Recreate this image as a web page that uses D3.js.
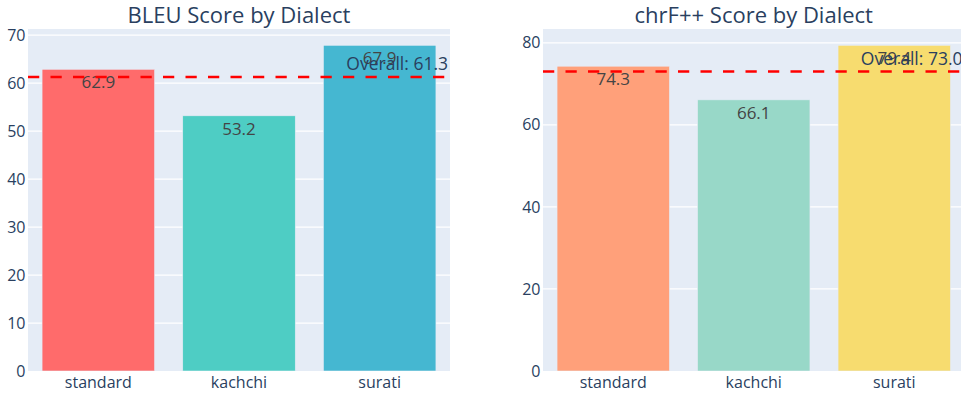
<!DOCTYPE html>
<html>
<head>
<meta charset="utf-8">
<script src="https://cdn.jsdelivr.net/npm/d3@7"></script>
<style>
  html, body { margin: 0; padding: 0; background: #ffffff; }
  svg { display: block; font-family: "Open Sans", verdana, arial, sans-serif; }
</style>
</head>
<body>
<svg id="chart" width="961" height="396"></svg>
<script>
// Dialect categories shared by both panels
const dialects = ["standard", "kachchi", "surati"];

// BLEU scores per dialect and the overall corpus score
const bleuScores = [62.9, 53.2, 67.9];
const bleuOverall = 61.3;
const bleuTicks = [0, 10, 20, 30, 40, 50, 60, 70];
const bleuColors = ["#FF6B6B", "#4ECDC4", "#45B7D1"];

// chrF++ scores per dialect and the overall corpus score
const chrfScores = [74.3, 66.1, 79.4];
const chrfOverall = 73.0;
const chrfTicks = [0, 20, 40, 60, 80];
const chrfColors = ["#FFA07A", "#98D8C8", "#F7DC6F"];

const svg = d3.select("#chart");

const panels = [
  { title: "BLEU Score by Dialect", values: bleuScores, overall: bleuOverall,
    ticks: bleuTicks, colors: bleuColors, x0: 28, x1: 450 },
  { title: "chrF++ Score by Dialect", values: chrfScores, overall: chrfOverall,
    ticks: chrfTicks, colors: chrfColors, x0: 543, x1: 964.5 }
];

const plotTop = 29, plotBottom = 371;
const textColor = "#2a3f5f";
const fontFamily = "'Open Sans', verdana, arial, sans-serif";

panels.forEach((p, i) => {
  const clipId = "clip" + i;
  svg.append("clipPath").attr("id", clipId)
    .append("rect").attr("x", p.x0).attr("y", plotTop)
    .attr("width", p.x1 - p.x0).attr("height", plotBottom - plotTop);

  const x = d3.scaleBand().domain(dialects).range([p.x0, p.x1])
    .paddingInner(0.2).paddingOuter(0.1);
  const y = d3.scaleLinear().domain([0, d3.max(p.values) * 1.05]).range([plotBottom, plotTop]);

  const g = svg.append("g");

  // plot background
  g.append("rect").attr("x", p.x0).attr("y", plotTop)
    .attr("width", p.x1 - p.x0).attr("height", plotBottom - plotTop)
    .attr("fill", "#E5ECF6");

  // horizontal grid lines
  g.append("g").selectAll("line").data(p.ticks.filter(t => t > 0)).join("line")
    .attr("x1", p.x0).attr("x2", p.x1)
    .attr("y1", d => y(d)).attr("y2", d => y(d))
    .attr("stroke", "#ffffff").attr("stroke-width", 1.25);

  // y axis labels
  const yAxis = d3.axisLeft(y).tickValues(p.ticks).tickSize(0).tickPadding(2.5);
  const ya = g.append("g").attr("transform", `translate(${p.x0},0)`).call(yAxis);
  ya.select(".domain").remove();
  ya.selectAll("text").attr("fill", textColor).attr("font-size", 16)
    .attr("font-family", fontFamily);

  // x axis labels
  const xAxis = d3.axisBottom(x).tickSize(0).tickPadding(5.5);
  const xa = g.append("g").attr("transform", `translate(0,${plotBottom})`).call(xAxis);
  xa.select(".domain").remove();
  xa.selectAll("text").attr("fill", textColor).attr("font-size", 16)
    .attr("font-family", fontFamily);

  const data = dialects.map((d, k) => ({ name: d, value: p.values[k], color: p.colors[k] }));

  const inner = g.append("g").attr("clip-path", `url(#${clipId})`);

  // bars
  inner.selectAll("rect.bar").data(data).join("rect")
    .attr("class", "bar")
    .attr("x", d => x(d.name)).attr("width", x.bandwidth())
    .attr("y", d => y(d.value)).attr("height", d => plotBottom - y(d.value))
    .attr("fill", d => d.color)
    .attr("stroke", "#E5ECF6").attr("stroke-width", 0.6);

  // value labels inside the top of each bar
  inner.selectAll("text.val").data(data).join("text")
    .attr("class", "val")
    .attr("x", d => x(d.name) + x.bandwidth() / 2)
    .attr("y", d => y(d.value) + 19)
    .attr("text-anchor", "middle")
    .attr("font-size", 17)
    .attr("fill", "#444444")
    .text(d => d.value.toFixed(1));

  // overall reference line
  inner.append("line")
    .attr("x1", p.x0).attr("x2", p.x1)
    .attr("y1", y(p.overall)).attr("y2", y(p.overall))
    .attr("stroke", "#FF0000").attr("stroke-width", 2.5)
    .attr("stroke-dasharray", "11.25,11.25");

  inner.append("text")
    .attr("x", p.x1 - 2).attr("y", y(p.overall) - 6.5)
    .attr("text-anchor", "end")
    .attr("font-size", 17.5)
    .attr("fill", textColor)
    .text("Overall: " + p.overall.toFixed(1));

  // panel title
  svg.append("text")
    .attr("x", (p.x0 + p.x1) / 2).attr("y", 23)
    .attr("text-anchor", "middle")
    .attr("font-size", 22)
    .attr("fill", textColor)
    .text(p.title);
});
</script>
</body>
</html>
